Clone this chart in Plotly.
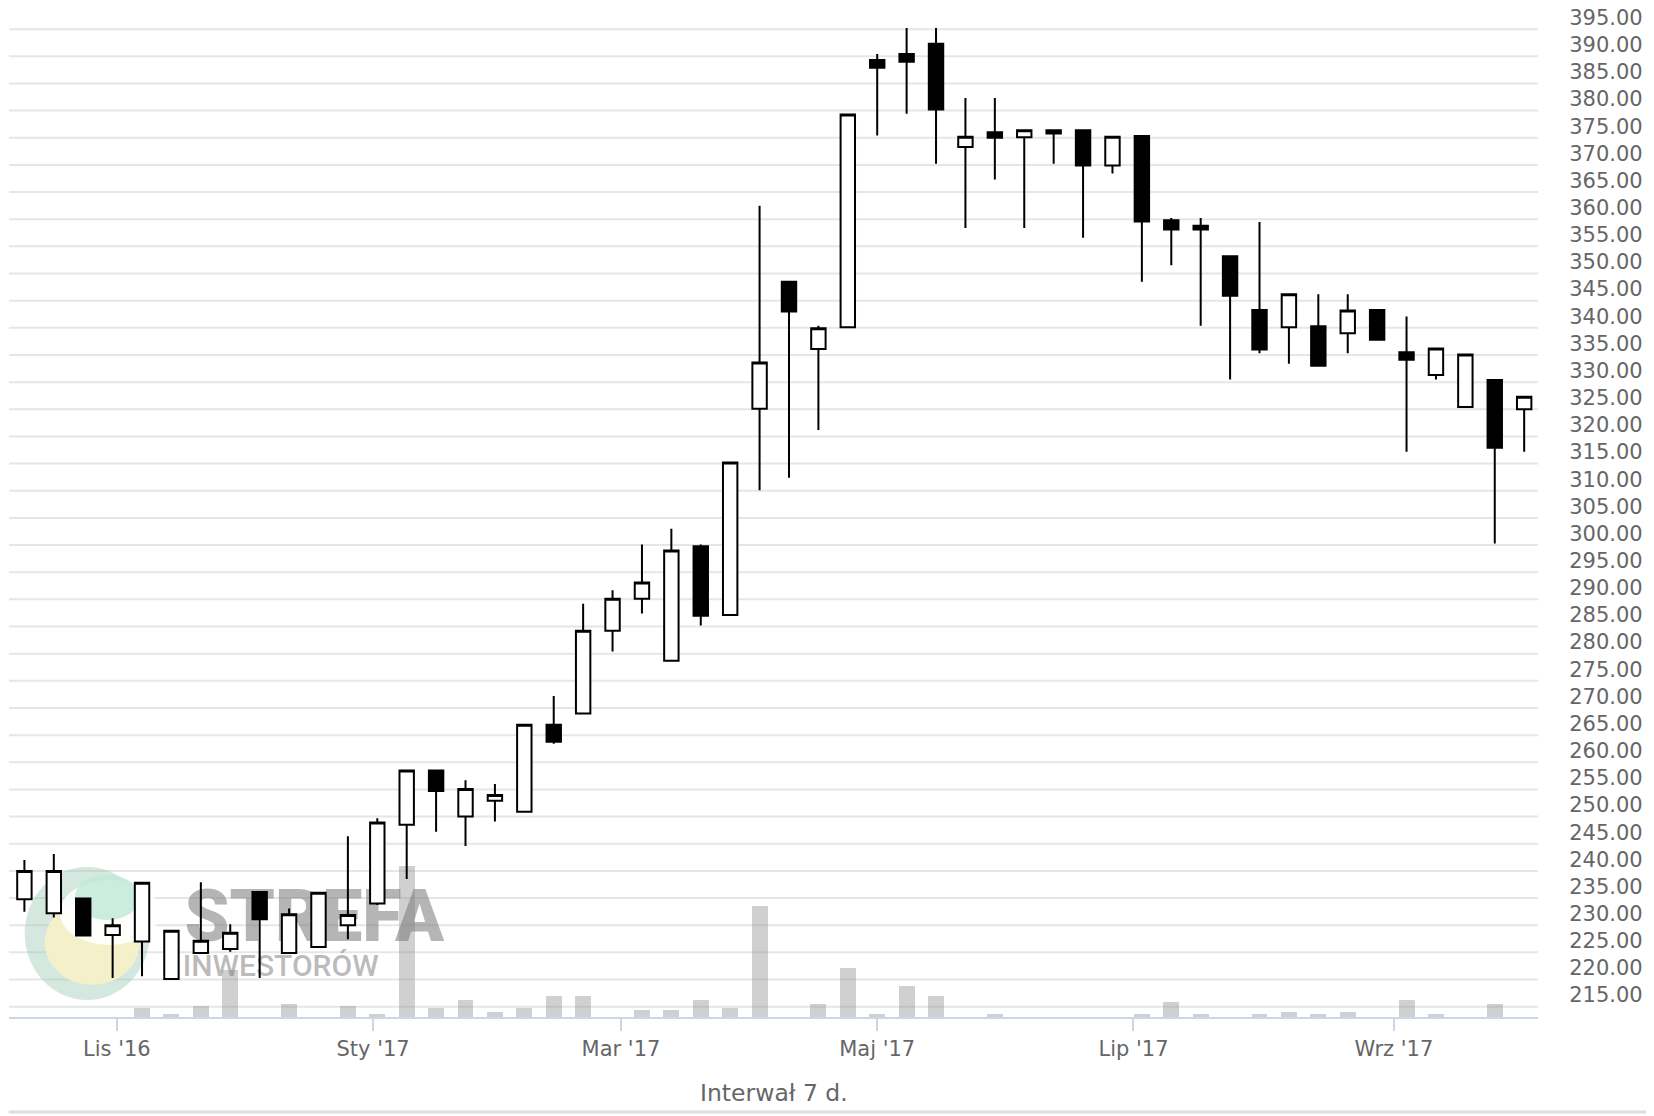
import plotly.graph_objects as go
import pandas as pd

# ---- data (weekly candles, Monday dates) ----
dates = pd.date_range("2016-10-10", periods=52, freq="7D")

open_ = [232.3, 229.7, 232.4, 225.7, 224.5, 217.6, 222.4, 223.1, 233.6, 222.4,
         223.5, 227.5, 231.5, 246.0, 256.0, 247.5, 250.4, 248.4, 264.4, 266.5,
         281.7, 287.6, 276.2, 297.3, 284.6, 322.6, 346.0, 333.6, 337.6, 386.8,
         387.9, 389.8, 370.8, 373.5, 372.6, 373.9, 373.9, 367.4, 372.8, 357.3,
         356.3, 350.7, 340.8, 337.6, 337.8, 336.5, 340.8, 333.0, 328.8, 322.9,
         327.9, 322.5]
high = [239.5, 240.6, 232.4, 228.8, 235.3, 226.5, 235.4, 227.7, 233.6, 230.6,
        233.5, 243.9, 247.2, 256.0, 256.0, 254.2, 253.5, 264.4, 269.7, 286.7,
        289.2, 297.6, 300.5, 297.6, 312.7, 360.0, 346.0, 337.9, 376.8, 387.9,
        392.7, 392.7, 379.8, 379.8, 373.9, 373.9, 373.9, 372.7, 372.8, 357.7,
        357.7, 350.7, 357.0, 343.7, 343.7, 343.7, 340.8, 339.6, 333.7, 332.6,
        327.9, 324.8]
low = [230.0, 228.9, 225.6, 217.8, 218.1, 217.6, 222.4, 222.6, 217.8, 222.4,
       223.5, 224.9, 231.2, 236.0, 244.7, 242.1, 246.6, 248.4, 260.9, 266.5,
       277.9, 284.9, 276.2, 282.7, 284.6, 307.6, 309.9, 318.7, 337.6, 372.9,
       376.9, 367.7, 355.9, 364.8, 355.9, 367.7, 354.1, 365.9, 346.0, 349.0,
       337.9, 328.0, 332.8, 330.9, 330.5, 332.8, 335.3, 314.7, 328.0, 322.9,
       297.8, 314.7]
close = [237.5, 237.5, 225.6, 227.5, 235.3, 226.5, 224.65, 226.1, 228.6, 229.5,
         233.5, 229.4, 246.4, 256.0, 252.2, 252.6, 251.5, 264.4, 261.3, 281.7,
         287.6, 290.6, 296.5, 284.5, 312.7, 331.1, 340.5, 337.4, 376.8, 385.4,
         386.5, 377.7, 372.7, 372.5, 373.9, 373.3, 367.4, 372.7, 357.1, 355.6,
         355.6, 343.4, 333.5, 343.7, 330.5, 340.7, 335.3, 331.6, 333.7, 332.6,
         315.4, 324.8]
volume = [0, 0, 0, 0, 900, 300, 1100, 4700, 0, 1300,
          0, 1100, 300, 15100, 900, 1700, 500, 900, 2100, 2100,
          0, 700, 700, 1700, 900, 11100, 0, 1300, 4900, 300,
          3100, 2100, 0, 300, 0, 0, 0, 0, 300, 1500,
          300, 0, 300, 500, 300, 500, 0, 1700, 300, 0,
          1300, 0]

y_tick_values = [215 + 5 * i for i in range(37)]
y_tick_text = ["%.2f" % v for v in y_tick_values]
x_tick_values = ["2016-11-01", "2017-01-01", "2017-03-01",
                 "2017-05-01", "2017-07-01", "2017-09-01"]
x_tick_text = ["Lis '16", "Sty '17", "Mar '17", "Maj '17", "Lip '17", "Wrz '17"]

FONT = "DejaVu Sans"
DAY_MS = 86400000
BODY = 8  # default page margin of the html body

fig = go.Figure()

# volume bars (base axis, drawn below candles)
fig.add_trace(go.Bar(
    x=dates, y=volume, yaxis="y",
    marker=dict(color="rgba(150,150,150,0.45)", line=dict(width=0)),
    width=3.8 * DAY_MS, hoverinfo="skip", showlegend=False))

# watermark text
fig.add_trace(go.Scatter(
    x=[pd.Timestamp("2016-12-18 00:00")], y=[9400], mode="text",
    text=["STREFA"], yaxis="y",
    textfont=dict(family="Roboto", size=72, color="rgba(120,120,120,0.55)", weight=900),
    hoverinfo="skip", showlegend=False))
fig.add_trace(go.Scatter(
    x=[pd.Timestamp("2016-12-10 00:00")], y=[4900], mode="text",
    text=["INWESTORÓW"], yaxis="y",
    textfont=dict(family="Roboto", size=30, color="rgba(120,120,120,0.5)", weight=500),
    hoverinfo="skip", showlegend=False))

# candles
fig.add_trace(go.Candlestick(
    x=dates, open=open_, high=high, low=low, close=close, yaxis="y2",
    increasing=dict(fillcolor="white", line=dict(color="black", width=2)),
    decreasing=dict(fillcolor="black", line=dict(color="black", width=2)),
    whiskerwidth=0, showlegend=False))

# grid lines between the labels
grid_vals = [v - 2.5 for v in y_tick_values] + [y_tick_values[-1] + 2.5]
shapes = []
for g in grid_vals:
    shapes.append(dict(type="line", xref="paper", x0=0, x1=1, yref="y2", y0=g, y1=g,
                       line=dict(color="#e6e6e6", width=2), layer="below"))


# page pixel -> paper coordinates
def px_x(p):
    return (p - 9.3) / 1528.4


def px_y(p):
    return (1017 - p) / 1009


# logo approximation (watermark)
shapes.append(dict(type="circle", xref="paper", yref="paper",
                   x0=px_x(25), x1=px_x(150), y0=px_y(1000), y1=px_y(867),
                   fillcolor="rgba(160,205,185,0.45)", line=dict(width=0), layer="below"))
shapes.append(dict(type="circle", xref="paper", yref="paper",
                   x0=px_x(45), x1=px_x(140), y0=px_y(985), y1=px_y(900),
                   fillcolor="rgba(245,240,200,0.95)", line=dict(width=0), layer="below"))
shapes.append(dict(type="circle", xref="paper", yref="paper",
                   x0=px_x(60), x1=px_x(160), y0=px_y(945), y1=px_y(880),
                   fillcolor="rgba(255,255,255,0.9)", line=dict(width=0), layer="below"))
shapes.append(dict(type="circle", xref="paper", yref="paper",
                   x0=px_x(75), x1=px_x(140), y0=px_y(920), y1=px_y(875),
                   fillcolor="rgba(190,232,215,0.8)", line=dict(width=0), layer="below"))

# outer border (right and bottom edges)
shapes.append(dict(type="line", xref="paper", yref="paper",
                   x0=px_x(1650), x1=px_x(1650), y0=px_y(1112), y1=px_y(BODY),
                   line=dict(color="#dedede", width=3), layer="above"))
shapes.append(dict(type="line", xref="paper", yref="paper",
                   x0=px_x(BODY + 1), x1=px_x(1650), y0=px_y(1112), y1=px_y(1112),
                   line=dict(color="#dedede", width=3), layer="above"))

fig.update_layout(
    width=1654 - BODY, height=1116 - BODY,
    margin=dict(l=1, r=116, t=0, b=99, autoexpand=False),
    paper_bgcolor="white", plot_bgcolor="white",
    showlegend=False,
    bargap=0,
    font=dict(family=FONT, color="#666666", size=21),
    xaxis=dict(
        type="date",
        range=["2016-10-06 08:00", "2017-10-05 07:00"],
        tickvals=x_tick_values, ticktext=x_tick_text,
        showgrid=False, zeroline=False,
        showline=True, linecolor="#ccd6eb", linewidth=2,
        ticks="outside", ticklen=12, tickwidth=2, tickcolor="#ccd6eb",
        tickfont=dict(family=FONT, size=21, color="#666666"),
        rangeslider=dict(visible=False),
        automargin=False,
        fixedrange=True,
    ),
    yaxis=dict(range=[0, 100900], visible=False, showgrid=False,
               automargin=False, fixedrange=True),
    yaxis2=dict(
        overlaying="y", side="right",
        range=[210.6, 396.39],
        tickvals=y_tick_values, ticktext=y_tick_text,
        showgrid=False, zeroline=False, showline=False,
        ticks="outside", ticklen=26, tickcolor="rgba(0,0,0,0)",
        ticklabeloverflow="allow",
        ticklabelshift=2,
        automargin=False,
        tickfont=dict(family=FONT, size=21, color="#666666"),
        fixedrange=True,
    ),
    shapes=shapes,
    annotations=[dict(text="Interwał 7 d.", xref="paper", yref="paper",
                      x=0.5, y=px_y(1093), xanchor="center", yanchor="middle",
                      showarrow=False, font=dict(family=FONT, size=23.5, color="#666666"))],
)

fig.write_html("out.html")
